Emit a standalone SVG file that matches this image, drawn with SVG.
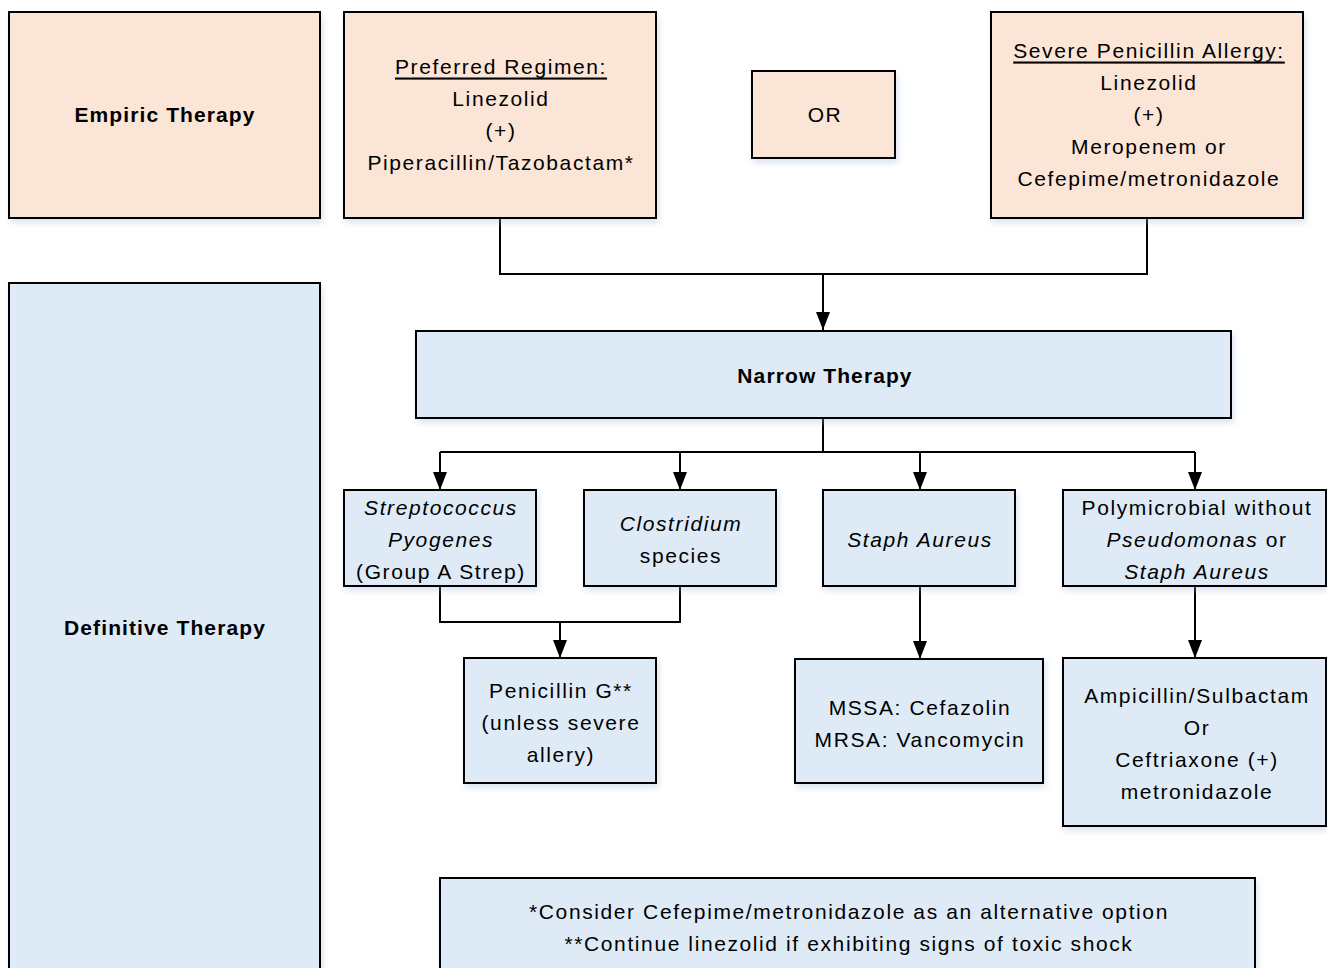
<svg xmlns="http://www.w3.org/2000/svg" width="1327" height="968" viewBox="0 0 1327 968">
<style>
.peach{fill:#FBE5D6;stroke:#000;stroke-width:2}
.blue{fill:#DEEBF7;stroke:#000;stroke-width:2}
text{font-family:"Liberation Sans",Arial,sans-serif;font-size:21px;letter-spacing:1.6px;fill:#000;text-anchor:middle;dominant-baseline:central}
.b{font-weight:bold;letter-spacing:1.1px}
.i{font-style:italic}
.u{text-decoration:underline}
.ln{fill:none;stroke:#000;stroke-width:2}
</style>
<defs>
<filter id="sh" x="-5%" y="-5%" width="115%" height="115%">
<feDropShadow dx="2" dy="4" stdDeviation="3" flood-color="#9DB4D0" flood-opacity="0.35"/>
</filter>
</defs>
<rect width="1327" height="968" fill="#fff"/>
<g id="connectors">
<path class="ln" d="M500,218 V274 H1147 V218"/>
<path class="ln" d="M823,274 V330"/>
<path d="M816,312 L830,312 L823,330 Z"/>
<path class="ln" d="M823,418 V452 M440,452 H1195"/>
<path class="ln" d="M440,452 V490 M680,452 V490 M920,452 V490 M1195,452 V490"/>
<path d="M433,472 L447,472 L440,490 Z M673,472 L687,472 L680,490 Z M913,472 L927,472 L920,490 Z M1188,472 L1202,472 L1195,490 Z"/>
<path class="ln" d="M440,586 V622 H680 V586 M560,622 V658"/>
<path d="M553,640 L567,640 L560,658 Z"/>
<path class="ln" d="M920,586 V659"/>
<path d="M913,641 L927,641 L920,659 Z"/>
<path class="ln" d="M1195,586 V658"/>
<path d="M1188,640 L1202,640 L1195,658 Z"/>
</g>
<g id="empiric">
<rect class="peach" x="9" y="12" width="311" height="206" filter="url(#sh)"/>
<text class="b" x="165" y="114">Empiric Therapy</text>
</g>
<g id="preferred">
<rect class="peach" x="344" y="12" width="312" height="206" filter="url(#sh)"/>
<text class="u" x="501" y="66">Preferred Regimen:</text>
<text x="501" y="98">Linezolid</text>
<text x="501" y="130">(+)</text>
<text x="501" y="162">Piperacillin/Tazobactam*</text>
</g>
<g id="or">
<rect class="peach" x="752" y="71" width="143" height="87" filter="url(#sh)"/>
<text x="825" y="114">OR</text>
</g>
<g id="severe">
<rect class="peach" x="991" y="12" width="312" height="206" filter="url(#sh)"/>
<text class="u" x="1149" y="50">Severe Penicillin Allergy:</text>
<text x="1149" y="82">Linezolid</text>
<text x="1149" y="114">(+)</text>
<text x="1149" y="146">Meropenem or</text>
<text x="1149" y="178">Cefepime/metronidazole</text>
</g>
<g id="definitive">
<rect class="blue" x="9" y="283" width="311" height="700" filter="url(#sh)"/>
<text class="b" x="165" y="627">Definitive Therapy</text>
</g>
<g id="narrow">
<rect class="blue" x="416" y="331" width="815" height="87" filter="url(#sh)"/>
<text class="b" x="825" y="375">Narrow Therapy</text>
</g>
<g id="strep">
<rect class="blue" x="344" y="490" width="192" height="96" filter="url(#sh)"/>
<text class="i" x="441" y="507">Streptococcus</text>
<text class="i" x="441" y="539">Pyogenes</text>
<text x="441" y="571">(Group A Strep)</text>
</g>
<g id="clostridium">
<rect class="blue" x="584" y="490" width="192" height="96" filter="url(#sh)"/>
<text class="i" x="681" y="523">Clostridium</text>
<text x="681" y="555">species</text>
</g>
<g id="staph">
<rect class="blue" x="823" y="490" width="192" height="96" filter="url(#sh)"/>
<text class="i" x="920" y="539">Staph Aureus</text>
</g>
<g id="poly">
<rect class="blue" x="1063" y="490" width="263" height="96" filter="url(#sh)"/>
<text x="1197" y="507">Polymicrobial without</text>
<text x="1197" y="539"><tspan class="i">Pseudomonas</tspan> or</text>
<text class="i" x="1197" y="571">Staph Aureus</text>
</g>
<g id="penicillin">
<rect class="blue" x="464" y="658" width="192" height="125" filter="url(#sh)"/>
<text x="561" y="690">Penicillin G**</text>
<text x="561" y="722">(unless severe</text>
<text x="561" y="754">allery)</text>
</g>
<g id="mssa">
<rect class="blue" x="795" y="659" width="248" height="124" filter="url(#sh)"/>
<text x="920" y="707">MSSA: Cefazolin</text>
<text x="920" y="739">MRSA: Vancomycin</text>
</g>
<g id="ampicillin">
<rect class="blue" x="1063" y="658" width="263" height="168" filter="url(#sh)"/>
<text x="1197" y="695">Ampicillin/Sulbactam</text>
<text x="1197" y="727">Or</text>
<text x="1197" y="759">Ceftriaxone (+)</text>
<text x="1197" y="791">metronidazole</text>
</g>
<g id="footnote">
<rect class="blue" x="440" y="878" width="815" height="110" filter="url(#sh)"/>
<text x="849" y="911">*Consider Cefepime/metronidazole as an alternative option</text>
<text x="849" y="943">**Continue linezolid if exhibiting signs of toxic shock</text>
</g>
</svg>
